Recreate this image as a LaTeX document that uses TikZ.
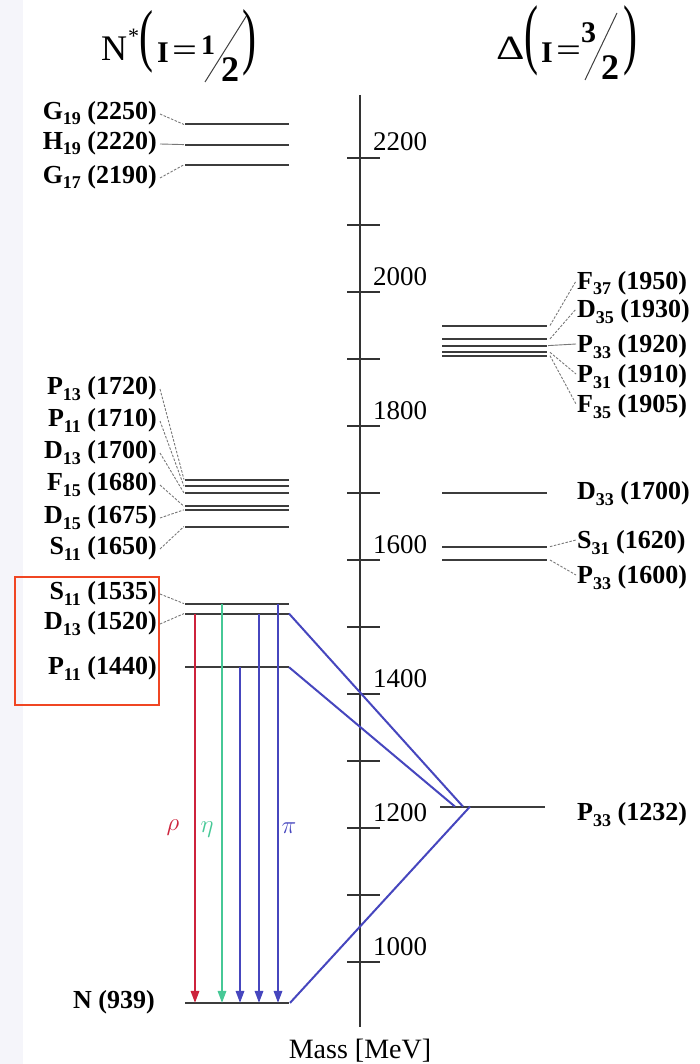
\documentclass[tikz,border=0pt]{standalone}
\usepackage{fontspec}
\setmainfont{Liberation Serif}
\usetikzlibrary{arrows.meta}
\definecolor{lvl}{RGB}{60,60,60}
\definecolor{ldr}{RGB}{120,120,120}
\definecolor{rred}{RGB}{205,35,60}
\definecolor{rgreen}{RGB}{70,200,150}
\definecolor{rblue}{RGB}{70,70,190}
\definecolor{boxred}{RGB}{240,70,35}
\definecolor{stripc}{RGB}{245,245,250}
\newcommand\sub[1]{\raisebox{-5.5pt}{\fontsize{18}{18}\selectfont #1}}
\newcommand\tallparen[2]{\scalebox{1}[#2]{\fontsize{42}{42}\selectfont #1}}
\begin{document}
\begin{tikzpicture}[x=1pt,y=-1pt,
  level/.style={line width=2pt, draw=lvl},
  leader/.style={line width=0.9pt, draw=ldr, dash pattern=on 2.5pt off 1.5pt},
  sleader/.style={line width=0.9pt, draw=ldr},
  lab/.style={font=\bfseries\fontsize{26}{26}\selectfont, inner sep=0pt, text height=17pt, text depth=0pt},
  llab/.style={lab, anchor=east},
  rlab/.style={lab, anchor=west},
  tickl/.style={font=\fontsize{27}{27}\selectfont, inner sep=0pt, anchor=base west},
  ttl/.style={font=\fontsize{34}{34}\selectfont, inner sep=0pt, anchor=base west},
  par/.style={inner sep=0pt, anchor=center},
  decay/.style={line width=1.6pt, -{Triangle[length=12pt,width=8.5pt]}},
  diag/.style={line width=2pt, draw=rblue},
  greek/.style={font=\fontsize{28}{28}\selectfont, inner sep=0pt}]
\useasboundingbox (0,0) rectangle (700,1064);
\fill[stripc] (0,0) rectangle (23,1064);

% ---- titles
\node[ttl,font=\fontsize{36}{36}\selectfont] (tN) at (101,61) {N};
\node[ttl,font=\fontsize{22}{22}\selectfont] (tS) at (128,44) {*};
\node[par] (tLp) at (146,42) {\tallparen{(}{1.65}};
\node[ttl,font=\bfseries\fontsize{30}{30}\selectfont] (tI) at (157,63) {I};
\node[ttl] (tEq) at (172,62) {\scalebox{1.3}[1]{=}};
\node[ttl,font=\bfseries\fontsize{28}{28}\selectfont] (t1) at (201,55) {1};
\coordinate (s1a) at (205,82); \coordinate (s1b) at (247,15);
\draw[line width=1pt, black!75] (s1a) -- (s1b);
\node[ttl,font=\bfseries\fontsize{36}{36}\selectfont] (t2) at (221,82) {2};
\node[par] (tRp) at (249,43) {\tallparen{)}{1.75}};

\node[ttl] (dD) at (496,60) {\scalebox{1.3}[1]{Δ}};
\node[par] (dLp) at (531,41) {\tallparen{(}{1.85}};
\node[ttl,font=\bfseries\fontsize{30}{30}\selectfont] (dI) at (541,63) {I};
\node[ttl] (dEq) at (556,62) {\scalebox{1.3}[1]{=}};
\node[ttl,font=\bfseries\fontsize{30}{30}\selectfont] (d3) at (581,43) {3};
\coordinate (s2a) at (585,80); \coordinate (s2b) at (617,13);
\draw[line width=1pt, black!75] (s2a) -- (s2b);
\node[ttl,font=\bfseries\fontsize{36}{36}\selectfont] (d2) at (601,80) {2};
\node[par] (dRp) at (630,41) {\tallparen{)}{1.85}};

% ---- axis
\coordinate (axT) at (360,95); \coordinate (axB) at (360,1027);
\draw[line width=1.4pt, black!80] (axT) -- (axB);
\foreach \m/\y in {2200/158,2100/225,2000/292,1900/359,1800/426,1700/493,1600/560,1500/627,1400/694,1300/761,1200/828,1100/895,1000/962}{
  \coordinate (tk\m a) at (347,\y); \coordinate (tk\m b) at (380,\y);
  \draw[line width=1.2pt, black!80] (tk\m a) -- (tk\m b);
}
\foreach \m/\y in {2200/158,2000/292,1800/426,1600/560,1400/694,1200/828,1000/962}{
  \node[tickl] (tl\m) at (373,\y-7) {\m};
}
\node[font=\fontsize{28}{28}\selectfont, inner sep=0pt, anchor=base] (mass) at (360,1058) {Mass [MeV]};

% ---- N* levels
\foreach \n/\y in {g19/124.5,h19/144.6,g17/164.7,p13/479.6,p11a/486.3,d13a/493.0,f15/506.4,d15/509.8,s11a/526.5,s11b/603.6,d13b/613.6,p11b/667.2,n/1002.9}{
  \coordinate (\n a) at (185,\y); \coordinate (\n b) at (289,\y);
  \draw[level] (\n a) -- (\n b);
}
\node[llab] (Lg19) at (157,111) {G\sub{19} (2250)};
\node[llab] (Lh19) at (157,141) {H\sub{19} (2220)};
\node[llab] (Lg17) at (157,175) {G\sub{17} (2190)};
\node[llab] (Lp13) at (157,386) {P\sub{13} (1720)};
\node[llab] (Lp11a) at (157,418) {P\sub{11} (1710)};
\node[llab] (Ld13a) at (157,450) {D\sub{13} (1700)};
\node[llab] (Lf15) at (157,482) {F\sub{15} (1680)};
\node[llab] (Ld15) at (157,515) {D\sub{15} (1675)};
\node[llab] (Ls11a) at (157,546) {S\sub{11} (1650)};
\node[llab] (Ls11b) at (157,591) {S\sub{11} (1535)};
\node[llab] (Ld13b) at (157,621) {D\sub{13} (1520)};
\node[llab] (Lp11b) at (157,666) {P\sub{11} (1440)};
\node[llab] (Ln) at (155,1000) {N (939)};

\foreach \n in {g19,g17,p13,p11a,d13a,f15,d15,s11a,s11b,d13b}{
  \draw[leader] ([xshift=3pt,yshift=-3pt]L\n.east) -- ([xshift=-1pt]\n a);
}
\draw[sleader] ([xshift=3pt,yshift=-3pt]Lh19.east) -- ([xshift=-1pt]h19a);

% ---- Delta levels
\foreach \n/\y in {f37/325.5,d35/338.9,p33a/345.6,p31/352.3,f35/355.7,d33/493.0,s31/546.6,p33b/560.0}{
  \coordinate (\n a) at (442,\y); \coordinate (\n b) at (547,\y);
  \draw[level] (\n a) -- (\n b);
}
\coordinate (p33ca) at (440,806.6); \coordinate (p33cb) at (545,806.6);
\draw[level] (p33ca) -- (p33cb);

\node[rlab] (Lf37) at (577,281) {F\sub{37} (1950)};
\node[rlab] (Ld35) at (577,309) {D\sub{35} (1930)};
\node[rlab] (Lp33a) at (577,344) {P\sub{33} (1920)};
\node[rlab] (Lp31) at (577,374) {P\sub{31} (1910)};
\node[rlab] (Lf35) at (577,404) {F\sub{35} (1905)};
\node[rlab] (Ld33) at (577,491) {D\sub{33} (1700)};
\node[rlab] (Ls31) at (577,540) {S\sub{31} (1620)};
\node[rlab] (Lp33b) at (577,575) {P\sub{33} (1600)};
\node[rlab] (Lp33c) at (577,812) {P\sub{33} (1232)};

\foreach \n in {f37,d35,p31,f35,s31,p33b}{
  \draw[leader] ([xshift=3pt]\n b) -- ([xshift=-1pt]L\n.west);
}
\draw[sleader] ([xshift=1pt]p33ab) -- ([xshift=-1pt]Lp33a.west);

% ---- decays
\coordinate (rT) at (195,613.6); \coordinate (rB) at (195,1002.9);
\coordinate (gT) at (222,603.6); \coordinate (gB) at (222,1002.9);
\coordinate (b1T) at (240,667.2); \coordinate (b1B) at (240,1002.9);
\coordinate (b2T) at (259,613.6); \coordinate (b2B) at (259,1002.9);
\coordinate (b3T) at (278,603.6); \coordinate (b3B) at (278,1002.9);
\draw[decay, rred] (rT) -- (rB);
\draw[decay, rgreen] (gT) -- (gB);
\draw[decay, rblue] (b1T) -- (b1B);
\draw[decay, rblue] (b2T) -- (b2B);
\draw[decay, rblue] (b3T) -- (b3B);

\node[greek, text=rred] (rho) at (173,828) {$\rho$};
\node[greek, text=rgreen] (eta) at (207,830) {$\eta$};
\node[greek, text=rblue] (pi) at (289,828) {$\pi$};

% ---- Delta(1232) connections
\coordinate (apx1) at (463,806.6);
\coordinate (apx2) at (455,806.6);
\coordinate (apx3) at (470,806.6);
\draw[diag] (d13bb) -- (apx1);
\draw[diag] (p11bb) -- (apx2);
\draw[diag] ([xshift=1pt]nb) -- (apx3);

% ---- highlight box
\draw[line width=2pt, boxred] (15,577) rectangle (159,705);
\end{tikzpicture}
\end{document}
